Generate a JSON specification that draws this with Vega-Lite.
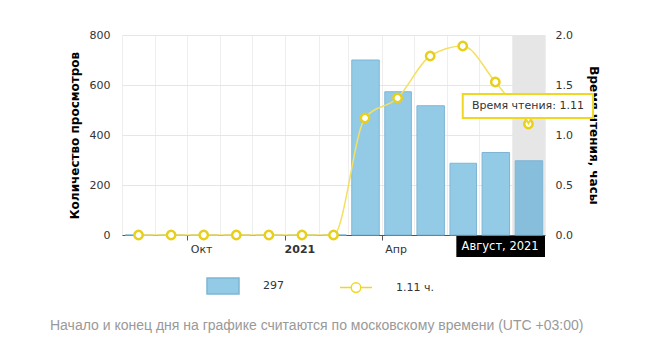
{
  "$schema": "https://vega.github.io/schema/vega-lite/v6.json",
  "autosize": {"type": "none"},
  "padding": {"left": 122, "top": 35, "right": 123, "bottom": 128},
  "width": 423,
  "height": 200,
  "background": "white",
  "config": {"view": {"stroke": null}, "font": "DejaVu Sans"},
  "title": {
    "text": "Начало и конец дня на графике считаются по московскому времени (UTC +03:00)",
    "orient": "bottom",
    "anchor": "start",
    "frame": "group",
    "dx": -72,
    "offset": 22,
    "font": "Liberation Sans",
    "fontSize": 14,
    "fontWeight": "normal",
    "color": "#999999"
  },
  "datasets": {
    "monthly": [
      {"date": "2020-08-01T00:00:00", "views": 0, "hours": 0},
      {"date": "2020-09-01T00:00:00", "views": 0, "hours": 0},
      {"date": "2020-10-01T00:00:00", "views": 0, "hours": 0},
      {"date": "2020-11-01T00:00:00", "views": 0, "hours": 0},
      {"date": "2020-12-01T00:00:00", "views": 0, "hours": 0},
      {"date": "2021-01-01T00:00:00", "views": 0, "hours": 0},
      {"date": "2021-02-01T00:00:00", "views": 0, "hours": 0},
      {"date": "2021-03-01T00:00:00", "views": 700, "hours": 1.17},
      {"date": "2021-04-01T00:00:00", "views": 573, "hours": 1.37},
      {"date": "2021-05-01T00:00:00", "views": 517, "hours": 1.79},
      {"date": "2021-06-01T00:00:00", "views": 287, "hours": 1.89},
      {"date": "2021-07-01T00:00:00", "views": 330, "hours": 1.53},
      {"date": "2021-08-01T00:00:00", "views": 297, "hours": 1.11}
    ],
    "highlight": [{"date": "2021-08-01T00:00:00", "top": 800, "bottom": 0}],
    "xlabel": [{"start": "2021-06-10T00:00:00", "end": "2021-09-01T00:00:00", "y1": -4, "y2": -88, "mid": "2021-07-21T00:00:00", "ym": -46, "label": "Август, 2021"}],
    "tip": [{"start": "2021-06-16T00:00:00", "end": "2021-10-16T00:00:00", "y1": 1.41, "y2": 1.17, "mid": "2021-08-16T00:00:00", "ym": 1.29, "pt": 1.15, "ptdate": "2021-08-01T00:00:00", "label": "Время чтения: 1.11"}],
    "none": []
  },
  "layer": [
    {
      "layer": [
        {
          "data": {"name": "highlight"},
          "mark": {"type": "bar", "color": "#e6e6e6"},
          "encoding": {
            "x": {
              "field": "date", "type": "temporal", "timeUnit": "yearmonth",
              "scale": {"domain": [{"year": 2020, "month": 8, "date": 1}, {"year": 2021, "month": 9, "date": 1}]},
              "axis": {
                "title": null,
                "tickCount": {"interval": "month", "step": 1},
                "grid": true,
                "gridColor": "#eeeeee",
                "domainColor": "#555555",
                "tickColor": "#555555",
                "tickOpacity": {"condition": {"test": "month(datum.value) % 3 == 0", "value": 1}, "value": 0},
                "tickSize": 5,
                "labelExpr": "month(datum.value) == 0 ? timeFormat(datum.value, '%Y') : month(datum.value) == 3 ? 'Апр' : month(datum.value) == 9 ? 'Окт' : ''",
                "labelFontWeight": {"condition": {"test": "month(datum.value) == 0", "value": "bold"}, "value": "normal"},
                "labelOffset": 14,
                "labelPadding": 3,
                "labelFontSize": 11,
                "labelColor": "#333333",
                "labelFlush": false,
                "labelOverlap": false
              }
            },
            "y": {"field": "top", "type": "quantitative"},
            "y2": {"field": "bottom"}
          }
        },
        {
          "data": {"name": "monthly"},
          "mark": {"type": "bar", "stroke": "#7db6d6", "strokeWidth": 1, "width": {"band": 0.86}},
          "encoding": {
            "x": {"field": "date", "type": "temporal", "timeUnit": "yearmonth", "title": null},
            "y": {
              "field": "views", "type": "quantitative",
              "scale": {"domain": [0, 800]},
              "axis": {
                "title": "Количество просмотров",
                "values": [0, 200, 400, 600, 800],
                "grid": true,
                "gridColor": "#e6e6e6",
                "domain": false,
                "ticks": false,
                "labelPadding": 12,
                "labelFontSize": 11,
                "labelColor": "#333333",
                "titleFontSize": 12,
                "titleFontWeight": "bold",
                "titleColor": "#000000",
                "titlePadding": 8
              }
            },
            "color": {
              "condition": {"test": "datum.views == 297", "value": "#86bedc"},
              "value": "#93cbe6"
            }
          }
        },
        {
          "data": {"name": "xlabel"},
          "mark": {"type": "rect", "color": "#000000"},
          "encoding": {
            "x": {"field": "start", "type": "temporal", "title": null},
            "x2": {"field": "end"},
            "y": {"field": "y1", "type": "quantitative"},
            "y2": {"field": "y2"}
          }
        },
        {
          "data": {"name": "xlabel"},
          "mark": {"type": "text", "color": "#ffffff", "fontSize": 11.5, "font": "DejaVu Sans"},
          "encoding": {
            "x": {"field": "mid", "type": "temporal", "title": null},
            "y": {"field": "ym", "type": "quantitative"},
            "text": {"field": "label"}
          }
        },
        {
          "data": {"name": "none"},
          "mark": {"type": "point", "opacity": 1},
          "encoding": {
            "fill": {
              "datum": "297",
              "scale": {"domain": ["297", "1.11 ч."], "range": ["#93cbe6", "#ffffff"]},
              "legend": {
                "orient": "none",
                "legendX": 84,
                "legendY": 234,
                "direction": "horizontal",
                "title": null,
                "padding": 0,
                "symbolSize": 1024,
                "symbolStrokeWidth": 1.5,
                "symbolOpacity": 1,
                "labelOffset": 23,
                "columnPadding": 53,
                "labelFont": "DejaVu Sans",
                "labelFontSize": 11,
                "labelColor": "#333333"
              }
            },
            "stroke": {
              "datum": "297",
              "scale": {"domain": ["297", "1.11 ч."], "range": ["#7db6d6", "#f0d820"]}
            },
            "shape": {
              "datum": "297",
              "scale": {"domain": ["297", "1.11 ч."], "range": ["M-1,-0.5H1V0.5H-1Z", "M-1,0H-0.3M0.3,0H1M0.3,0A0.3,0.3 0 1 1 -0.3,0A0.3,0.3 0 1 1 0.3,0"]}
            }
          }
        }
      ]
    },
    {
      "layer": [
        {
          "data": {"name": "monthly"},
          "mark": {
            "type": "line",
            "interpolate": "monotone",
            "color": "#f3e060",
            "strokeWidth": 1.5,
            "point": {"filled": false, "fill": "#ffffff", "stroke": "#e8cf1a", "strokeWidth": 2.5, "size": 70}
          },
          "encoding": {
            "x": {"field": "date", "type": "temporal", "timeUnit": "yearmonth", "bandPosition": 0.5, "title": null},
            "y": {
              "field": "hours", "type": "quantitative",
              "scale": {"domain": [0, 2]},
              "axis": {
                "orient": "right",
                "title": "Время чтения, часы",
                "values": [0, 0.5, 1, 1.5, 2],
                "format": ".1f",
                "grid": false,
                "domain": false,
                "ticks": false,
                "labelPadding": 10,
                "labelFontSize": 11,
                "labelColor": "#333333",
                "titleFontSize": 12,
                "titleFontWeight": "bold",
                "titleColor": "#000000",
                "titlePadding": 14
              }
            }
          }
        },
        {
          "data": {"name": "tip"},
          "mark": {"type": "point", "shape": "triangle-down", "filled": true, "fill": "#ffffff", "stroke": "#f0d820", "strokeWidth": 2, "size": 60, "opacity": 1},
          "encoding": {
            "x": {"field": "ptdate", "type": "temporal", "timeUnit": "yearmonth", "bandPosition": 0.5, "title": null},
            "y": {"field": "pt", "type": "quantitative"}
          }
        },
        {
          "data": {"name": "tip"},
          "mark": {"type": "rect", "fill": "#ffffff", "stroke": "#f0d820", "strokeWidth": 2},
          "encoding": {
            "x": {"field": "start", "type": "temporal", "title": null},
            "x2": {"field": "end"},
            "y": {"field": "y1", "type": "quantitative"},
            "y2": {"field": "y2"}
          }
        },
        {
          "data": {"name": "tip"},
          "mark": {"type": "text", "color": "#333333", "fontSize": 11, "font": "DejaVu Sans"},
          "encoding": {
            "x": {"field": "mid", "type": "temporal", "title": null},
            "y": {"field": "ym", "type": "quantitative"},
            "text": {"field": "label"}
          }
        }
      ]
    }
  ],
  "resolve": {"scale": {"y": "independent"}}
}
